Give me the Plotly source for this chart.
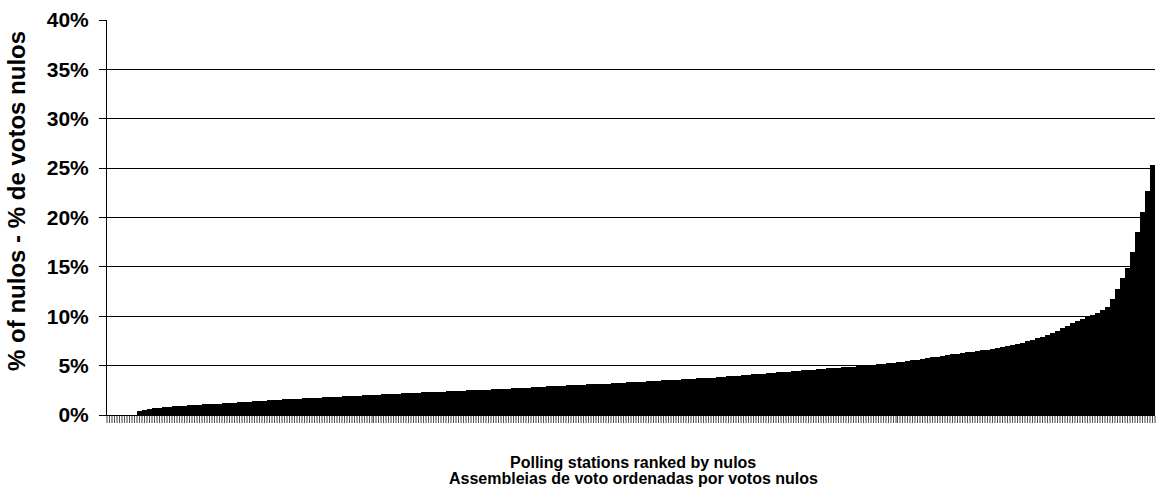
import plotly.graph_objects as go

# Polling stations ranked by share of null votes (% nulos)
nulos_pct = [
    0, 0, 0, 0, 0, 0,
    0.42, 0.50, 0.58, 0.66, 0.74, 0.81, 0.86,
    0.89, 0.92, 0.95, 0.98, 1.01, 1.04, 1.07, 1.10, 1.13, 1.16, 1.19, 1.22,
    1.25, 1.28, 1.31, 1.34, 1.37, 1.40, 1.44, 1.48, 1.52, 1.56, 1.59, 1.62, 1.65,
    1.67, 1.69, 1.72, 1.74, 1.77, 1.79, 1.82, 1.84, 1.86, 1.89, 1.91, 1.94, 1.96,
    1.99, 2.01, 2.03, 2.06, 2.08, 2.11, 2.13, 2.16, 2.18, 2.20, 2.23, 2.25, 2.28, 2.30,
    2.32, 2.35, 2.37, 2.39, 2.42, 2.44, 2.46, 2.49, 2.51, 2.53, 2.56, 2.58, 2.61, 2.63,
    2.66, 2.68, 2.71, 2.73, 2.76, 2.78, 2.81, 2.83, 2.86, 2.89, 2.91, 2.94, 2.96, 2.99,
    3.01, 3.04, 3.06, 3.09, 3.11, 3.14,
    3.17, 3.19, 3.22, 3.25, 3.28, 3.31, 3.33, 3.36, 3.39, 3.42, 3.45, 3.47, 3.50, 3.53,
    3.56, 3.58, 3.61, 3.64, 3.67, 3.70, 3.72, 3.75,
    3.79, 3.83, 3.87, 3.91, 3.95, 3.99, 4.03, 4.07, 4.11, 4.15, 4.19, 4.23, 4.27, 4.31,
    4.35, 4.39, 4.43, 4.47, 4.51, 4.55, 4.59, 4.63, 4.67, 4.71, 4.75, 4.79, 4.83, 4.87,
    4.91, 4.95, 4.99, 5.03, 5.08, 5.13, 5.18, 5.23, 5.28, 5.34,
    5.41, 5.48, 5.55, 5.62, 5.70, 5.77, 5.84, 5.92, 5.99, 6.07,
    6.14, 6.21, 6.28, 6.35, 6.42, 6.49, 6.56, 6.63, 6.70, 6.77,
    6.86, 6.95, 7.05, 7.15, 7.30, 7.45, 7.60, 7.75, 7.90, 8.08,
    8.30, 8.55, 8.80, 9.05, 9.28, 9.50, 9.72, 9.93, 10.15, 10.35, 10.6,
    10.95, 11.7, 12.8, 13.9, 14.9, 16.5, 18.5, 20.6, 22.7, 25.3,
]
station_rank = list(range(len(nulos_pct)))

y_ticks = [0, 5, 10, 15, 20, 25, 30, 35, 40]
y_tick_labels = [f"{v}%" for v in y_ticks]

y_title = "% of nulos - % de votos nulos"
x_title_line1 = "Polling stations ranked by nulos"
x_title_line2 = "Assembleias de voto ordenadas por votos nulos"

FONT = "Liberation Sans, Arial, sans-serif"

fig = go.Figure()
fig.add_trace(go.Bar(
    x=station_rank,
    y=nulos_pct,
    marker=dict(color="#000000", line=dict(width=0)),
    hoverinfo="skip",
))

fig.update_layout(
    width=1156,
    height=490,
    margin=dict(l=107, r=1, t=20, b=75),
    paper_bgcolor="white",
    plot_bgcolor="white",
    bargap=0,
    showlegend=False,
    font=dict(family=FONT, color="black"),
    xaxis=dict(
        range=[-0.5, len(nulos_pct) - 0.5],
        automargin=False,
        tickmode="linear",
        tick0=0,
        dtick=1,
        ticks="outside",
        ticklen=7,
        tickwidth=1,
        tickcolor="#505050",
        minor=dict(ticks="outside", tick0=0.5, dtick=1, ticklen=7, tickwidth=2, tickcolor="#a0a0a0"),
        showticklabels=False,
        showgrid=False,
        zeroline=False,
        showline=True,
        linecolor="#000000",
        linewidth=1,
    ),
    yaxis=dict(
        range=[0, 40],
        automargin=False,
        tickvals=y_ticks,
        ticktext=y_tick_labels,
        ticks="outside",
        ticklen=7,
        tickwidth=1,
        tickcolor="#000000",
        tickfont=dict(family=FONT, size=21, color="black", weight="bold"),
        ticklabelstandoff=6,
        showgrid=True,
        gridcolor="#000000",
        gridwidth=1,
        zeroline=False,
        showline=True,
        linecolor="#000000",
        linewidth=1,
    ),
    annotations=[
        dict(
            text=y_title,
            xref="paper", yref="paper",
            x=-0.0859, y=0.542,
            xanchor="center", yanchor="middle",
            textangle=-90,
            showarrow=False,
            font=dict(family=FONT, size=24, color="black", weight="bold"),
        ),
        dict(
            text=x_title_line1,
            xref="paper", yref="paper",
            x=0.502, y=-0.119,
            xanchor="center", yanchor="middle",
            showarrow=False,
            font=dict(family=FONT, size=16, color="black", weight="bold"),
        ),
        dict(
            text=x_title_line2,
            xref="paper", yref="paper",
            x=0.502, y=-0.1595,
            xanchor="center", yanchor="middle",
            showarrow=False,
            font=dict(family=FONT, size=16, color="black", weight="bold"),
        ),
    ],
)

fig.write_html(
    "out.html",
    config={"displayModeBar": False},
    post_script="document.body.style.margin='0';document.body.style.padding='0';document.body.style.overflow='hidden';",
)
